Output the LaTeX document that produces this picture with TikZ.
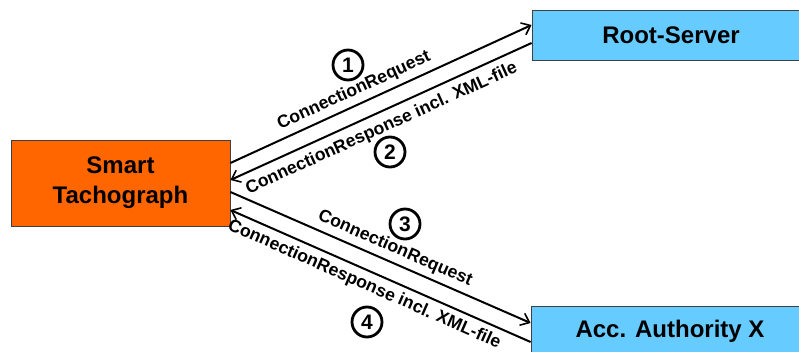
\documentclass[tikz,border=0pt]{standalone}
\usepackage{fontspec}
\setmainfont{Liberation Sans}
\usetikzlibrary{arrows.meta,calc}
\definecolor{tachoorange}{HTML}{FF6600}
\definecolor{serverblue}{HTML}{66CCFF}
\definecolor{boxedge}{HTML}{404040}
\begin{document}
\begin{tikzpicture}[x=1pt,y=-1pt,
  box/.style={draw=boxedge, line width=0.8pt, align=center, inner sep=0pt,
    font=\bfseries\fontsize{24}{30}\selectfont},
  msg/.style={-{Straight Barb[length=8pt,width=13pt,line width=1.6pt]}, line width=2pt},
  lbl/.style={font=\bfseries\fontsize{17.6}{19}\selectfont, sloped, inner sep=0pt,
    text height=12.5pt, text depth=3.5pt},
  num/.style={circle, draw, line width=2.8pt, minimum size=30pt, inner sep=0pt,
    font=\bfseries\fontsize{21}{22}\selectfont}]
\useasboundingbox (0,0) rectangle (799,352);

% parties
\node[box, fill=tachoorange, minimum width=219pt, minimum height=86pt] (st) at (120.5,183) {Smart\\Tachograph};
\node[box, fill=serverblue, minimum width=278pt, minimum height=50pt] (rs) at (671,35) {Root-Server};
\node[box, fill=serverblue, minimum width=278pt, minimum height=50pt] (aa) at (670,331) {Acc. Authority X};

% exchange with the root server
\draw[msg] ([yshift=20pt]st.east) -- node[lbl, pos=0.43, above=5pt] {ConnectionRequest} ([yshift=10pt]rs.west);
\draw[msg] ([yshift=-8pt]rs.west) -- node[lbl, pos=0.52, below=7pt] {ConnectionResponse incl. XML-file} ([yshift=3pt]st.east);

% exchange with the authority
\draw[msg] ([yshift=-9pt]st.east) -- node[lbl, pos=0.53, above=5pt] {ConnectionRequest} ([yshift=8pt]aa.west);
\draw[msg] ([yshift=-11pt]aa.west) -- node[lbl, pos=0.535, below=5.5pt] {ConnectionResponse incl. XML-file} ([yshift=-27pt]st.east);

% step numbers
\node[num] (n1) at (348,65) {1};
\node[num] (n2) at (390,152) {2};
\node[num] (n3) at (405,224) {3};
\node[num] (n4) at (367,322) {4};
\end{tikzpicture}
\end{document}
